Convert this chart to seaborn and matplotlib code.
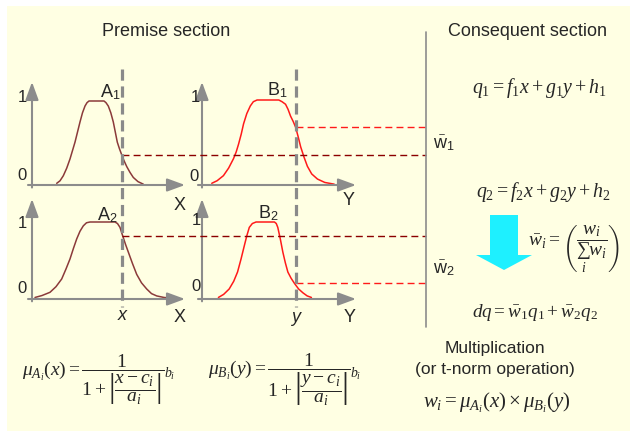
import matplotlib
matplotlib.use('Agg')
import matplotlib.pyplot as plt
import seaborn as sns
from matplotlib.patches import Rectangle, FancyArrow

# membership curves
# u = position along the input axis (0 at the vertical axis), v = membership grade
a1_u = [24.7, 28, 31.3, 34.7, 38, 40.5, 43, 45.5, 48, 50.5, 53, 55, 57,
        72, 74, 76.3, 78.8, 81.3, 83.3, 85.3, 87.5, 89.7, 92, 94.7, 98, 101.3, 106, 111.3]
a1_v = [0.02, 0.05, 0.11, 0.2, 0.31, 0.41, 0.51, 0.63, 0.75, 0.86, 0.94, 0.98, 1.0,
        1.0, 0.98, 0.94, 0.86, 0.75, 0.63, 0.51, 0.43, 0.36, 0.29, 0.22, 0.15, 0.09, 0.04, 0.01]
b1_u = [9.7, 15, 21.3, 26.5, 31.3, 34, 36.3, 39, 41.3, 44.5, 48, 51, 54.7,
        76.3, 79.5, 83, 85.5, 88, 90.5, 93, 95.5, 98, 101.3, 104.7, 109, 114.7, 122, 131.3]
b1_v = [0.02, 0.05, 0.11, 0.2, 0.31, 0.39, 0.48, 0.6, 0.72, 0.84, 0.93, 0.98, 1.0,
        1.0, 0.98, 0.95, 0.89, 0.81, 0.75, 0.68, 0.57, 0.45, 0.33, 0.22, 0.13, 0.07, 0.03, 0.01]
a2_u = [3, 10, 18, 24, 29.7, 34, 38, 41.5, 44.7, 48, 51.3, 54.5, 58,
        83, 85.5, 88, 90.7, 93.5, 96.3, 100.5, 104.7, 109.5, 114.7, 119.5, 124.7, 132, 139.7]
a2_v = [0.02, 0.045, 0.087, 0.16, 0.26, 0.39, 0.52, 0.66, 0.78, 0.88, 0.95, 0.99, 1.0,
        1.0, 0.98, 0.93, 0.82, 0.71, 0.61, 0.46, 0.32, 0.21, 0.13, 0.07, 0.04, 0.02, 0.01]
b2_u = [16.3, 21.5, 27, 31.5, 35.3, 38.8, 42, 44.5, 47, 50, 53.7,
        72, 73.8, 75.3, 77.8, 80.3, 82.8, 85.3, 88.5, 92, 96, 100.3, 104.5, 108.7]
b2_v = [0.02, 0.06, 0.13, 0.23, 0.35, 0.52, 0.69, 0.82, 0.93, 0.98, 1.0,
        1.0, 0.98, 0.93, 0.78, 0.61, 0.47, 0.35, 0.27, 0.2, 0.13, 0.08, 0.04, 0.02]

x_input = 90
y_input = 93
mu_a = [0.36, 0.82]   # A1(x), A2(x)
mu_b = [0.68, 0.21]   # B1(y), B2(y)

mf_labels = ['A_1', 'B_1', 'A_2', 'B_2']

sns.set_style('white')
plt.rcParams['font.family'] = ['Liberation Sans', 'DejaVu Sans']
plt.rcParams['mathtext.fontset'] = 'custom'
plt.rcParams['mathtext.rm'] = 'Liberation Serif'
plt.rcParams['mathtext.it'] = 'Liberation Serif:italic'
plt.rcParams['mathtext.bf'] = 'Liberation Serif:bold'
plt.rcParams['mathtext.sf'] = 'Liberation Sans'

W, H = 633, 439
fig = plt.figure(figsize=(W / 100, H / 100), dpi=100)
fig.patch.set_facecolor('white')

bg = fig.add_axes([0, 0, 1, 1])
bg.set_xlim(0, W)
bg.set_ylim(H, 0)
bg.axis('off')
bg.add_patch(Rectangle((7, 7), 623, 425, facecolor='#FFFFE3', edgecolor='none'))

AXIS = '#8c8c8c'
BROWN = '#8B3A3A'
RED = '#FF1A1A'


def panel(left, axis_y, unit, top, width=153):
    ax = fig.add_axes([left / W, (H - axis_y) / H, width / W, (axis_y - top) / H])
    ax.set_xlim(0, 153)
    ax.set_ylim(0, (axis_y - top) / unit)
    ax.axis('off')
    ymax = (axis_y - top) / unit
    arrow = dict(arrowstyle='-|>,head_length=0.6,head_width=0.22', color=AXIS, lw=1.5,
                 mutation_scale=18, shrinkA=0, shrinkB=0)
    ax.annotate('', xy=(153, 0), xytext=(-4, 0), arrowprops=arrow, annotation_clip=False)
    ax.annotate('', xy=(0, ymax), xytext=(0, -0.03), arrowprops=arrow, annotation_clip=False)
    return ax


ax_a1 = panel(32, 186, 84, 83)
ax_b1 = panel(202, 186, 85, 83, 154)
ax_a2 = panel(32, 300, 77, 200)
ax_b2 = panel(202, 300, 77, 200, 154)

sns.lineplot(x=a1_u, y=a1_v, ax=ax_a1, color=BROWN, lw=1.1, estimator=None)
sns.lineplot(x=b1_u, y=b1_v, ax=ax_b1, color=RED, lw=1.1, estimator=None)
sns.lineplot(x=a2_u, y=a2_v, ax=ax_a2, color=BROWN, lw=1.1, estimator=None)
sns.lineplot(x=b2_u, y=b2_v, ax=ax_b2, color=RED, lw=1.1, estimator=None)

top = fig.add_axes([0, 0, 1, 1])
top.set_xlim(0, W)
top.set_ylim(H, 0)
top.axis('off')
top.patch.set_visible(False)


def to_px(ax, u, v):
    return top.transData.inverted().transform(ax.transData.transform((u, v)))


DIV_X = 426
# projections of membership grades to the consequent side
for ax, m, col in [(ax_a1, mu_a[0], '#8B0000'), (ax_a2, mu_a[1], '#8B0000')]:
    px, py = to_px(ax, x_input, m)
    top.plot([px, DIV_X], [py, py], color=col, lw=1.0, dashes=(5, 3))
for ax, m, col in [(ax_b1, mu_b[0], RED), (ax_b2, mu_b[1], RED)]:
    px, py = to_px(ax, y_input, m)
    top.plot([px, DIV_X], [py, py], color=col, lw=1.0, dashes=(5, 3))

# input lines
xp = to_px(ax_a1, x_input, 0)[0]
yp = to_px(ax_b1, y_input, 0)[0]
for p in [xp, yp]:
    top.plot([p, p], [70, 308], color='#8a8a8a', lw=2.3, dashes=(3.5, 1.8))

# divider
top.plot([DIV_X, DIV_X], [33, 328], color='#8c8c8c', lw=1.2)

# titles
top.text(166, 32, 'Premise section', fontsize=13, ha='center', va='center')
top.text(527, 32, 'Consequent section', fontsize=13, ha='center', va='center')

# panel tick labels
for x, y, s in [(22, 98, '1'), (22, 176, '0'), (195, 98, '1'), (194, 177, '0'),
                (22, 224, '1'), (22, 289, '0'), (196, 221, '1'), (196, 287, '0')]:
    top.text(x, y, s, fontsize=12, ha='center', va='center')

for (x, y), s in zip([(100, 92), (267, 90), (97, 215), (258, 213)], mf_labels):
    top.text(x, y, r'$\mathsf{' + s[0] + r'}_{\mathsf{' + s[2] + '}}$', fontsize=13,
             ha='left', va='center')

top.text(180, 206, 'X', fontsize=13, ha='center', va='center')
top.text(349, 201, 'Y', fontsize=13, ha='center', va='center')
top.text(180, 318, 'X', fontsize=13, ha='center', va='center')
top.text(350, 318, 'Y', fontsize=13, ha='center', va='center')
top.text(xp, 316, 'x', fontsize=13, style='italic', ha='center', va='center')
top.text(yp, 318, 'y', fontsize=13, style='italic', ha='center', va='center')

top.text(433, 143, r'$\bar{\mathsf{w}}_{\mathsf{1}}$', fontsize=13, ha='left', va='center')
top.text(433, 268, r'$\bar{\mathsf{w}}_{\mathsf{2}}$', fontsize=13, ha='left', va='center')

# consequent formulas
top.text(539, 88, r'$q_1 = f_1 x + g_1 y + h_1$', fontsize=14.3, ha='center', va='center')
top.text(543, 192, r'$q_2 = f_2 x + g_2 y + h_2$', fontsize=14.3, ha='center', va='center')
top.text(574, 249, r'$\bar{w}_i = \left(\dfrac{w_i}{\sum_i w_i}\right)$', fontsize=14,
         ha='center', va='center')
top.text(535, 313, r'$dq = \bar{w}_1 q_1 + \bar{w}_2 q_2$', fontsize=13.8, ha='center', va='center')

top.add_patch(FancyArrow(504, 216, 0, 55, width=28, head_width=56, head_length=15,
                         length_includes_head=True, facecolor='#1EF0FF', edgecolor='none'))

top.text(495, 349, 'Multiplication', fontsize=12.5, ha='center', va='center')
top.text(495, 370, '(or t-norm operation)', fontsize=12.5, ha='center', va='center')
top.text(497, 403, r'$w_i = \mu_{A_i}(x) \times \mu_{B_i}(y)$', fontsize=15, ha='center', va='center')

# premise membership formulas (exponent placed by hand, mathtext sets it too low)
top.text(22, 380, r'$\mu_{A_i}(x) = \dfrac{1}{1+\left|\dfrac{x-c_i}{a_i}\right|}$',
         fontsize=14, ha='left', va='center')
top.text(208, 380, r'$\mu_{B_i}(y) = \dfrac{1}{1+\left|\dfrac{y-c_i}{a_i}\right|}$',
         fontsize=14, ha='left', va='center')
top.text(164, 374, r'$b_i$', fontsize=10, ha='left', va='center')
top.text(350, 374, r'$b_i$', fontsize=10, ha='left', va='center')

fig.savefig('out.png', dpi=100)
